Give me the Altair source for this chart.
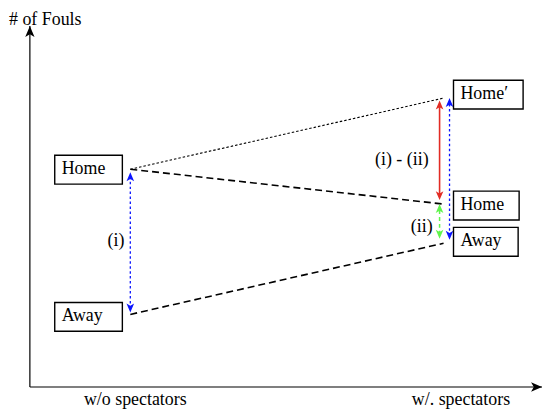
import altair as alt
import pandas as pd

# ---------------- data ----------------
conditions = ["w/o spectators", "w/. spectators"]
cond_pos = [0, 1]
home = [15.0, 12.6]          # fouls of the home team
away = [5.0, 9.9]            # fouls of the away team
home_prime = 19.9            # counterfactual home level (Away + (i))
box_labels = ["Home", "Away", "Home\u2032", "Home", "Away"]
diff_labels = ["(i)", "(i) - (ii)", "(ii)"]
y_title = "# of Fouls"

# ---------------- style ----------------
FONT = "'Liberation Serif', 'Times New Roman', serif"
FS = 18
BLUE = "#0a14ff"
RED = "#e22c24"
GREEN = "#61f54d"
HEAD = "M0,0 L0.85,2 L0,1.5 L-0.85,2 Z"   # stealth arrow head, tip at origin, pointing up

W, H = 515, 363
PX_X, PX_Y = 315.0, 14.6
x0 = -101 / PX_X
xdom = [x0, x0 + W / PX_X]
ydom = [0, H / PX_Y]
xs = alt.Scale(domain=xdom, nice=False, zero=False)
ys = alt.Scale(domain=ydom, nice=False, zero=False)


def X(f="x"):
    return alt.X(f + ":Q", scale=xs, axis=None)


def Y(f="y"):
    return alt.Y(f + ":Q", scale=ys, axis=None)


layers = []

# ---- frame: axes with arrow heads ----
yaxis_df = pd.DataFrame({"x": [xdom[0]], "y": [ydom[0]], "y2": [ydom[1]]})
xaxis_df = pd.DataFrame({"x": [xdom[0]], "x2": [xdom[1]], "y": [ydom[0]]})
layers.append(alt.Chart(yaxis_df).mark_rule(color="black", strokeWidth=1.2)
              .encode(x=X(), y=Y(), y2="y2:Q"))
layers.append(alt.Chart(xaxis_df).mark_rule(color="black", strokeWidth=1.2)
              .encode(x=X(), x2="x2:Q", y=Y()))
heads_df = pd.DataFrame({"x": [xdom[0], xdom[1]], "y": [ydom[1], ydom[0]], "ang": [0, 90]})
layers.append(alt.Chart(heads_df).mark_point(
    shape=HEAD, size=121, filled=True, color="black", opacity=1, strokeWidth=0
).encode(x=X(), y=Y(), angle=alt.Angle("ang:Q", scale=None)))
title_df = pd.DataFrame({"x": [xdom[0]], "y": [ydom[1]], "t": [y_title]})
layers.append(alt.Chart(title_df).mark_text(font=FONT, fontSize=FS, color="black", align="left",
                                            baseline="middle", dx=-21, dy=-6)
              .encode(x=X(), y=Y(), text="t:N"))

# ---- connecting lines ----
def line_layer(y_vals, dash, width):
    df = pd.DataFrame({"x": cond_pos, "y": y_vals})
    return alt.Chart(df).mark_line(color="black", strokeDash=dash, strokeWidth=width).encode(
        x=X(), y=Y())

layers.append(line_layer(home, [7, 4], 1.6))
layers.append(line_layer(away, [7, 4], 1.6))
layers.append(line_layer([home[0], home_prime], [2.5, 2], 1.1))

# ---- double arrows ----
arrows = [
    # x cond, lo, hi, color, dash, width, xoffset, gap_lo, gap_hi
    (cond_pos[0], away[0], home[0], BLUE, [2.5, 2.5], 1.3, 0, 2, 3),
    (cond_pos[1], away[1], home_prime, BLUE, [2.5, 2.5], 1.3, 6, 3.5, 0),
    (cond_pos[1], home[1], home_prime, RED, None, 1.6, -4, 4, 2.5),
    (cond_pos[1], away[1], home[1], GREEN, [4, 3], 1.5, -4, 4.5, 0),
]
for xc, lo, hi, col, dash, wdt, xo, glo, ghi in arrows:
    df = pd.DataFrame({"x": [xc], "lo": [lo], "hi": [hi]})
    rule_kw = dict(color=col, strokeWidth=wdt, xOffset=xo, yOffset=-(glo + 4), y2Offset=ghi + 4)
    if dash is not None:
        rule_kw["strokeDash"] = dash
    base = alt.Chart(df)
    layers.append(base.mark_rule(**rule_kw).encode(x=X(), y=Y("lo"), y2="hi:Q"))
    layers.append(base.mark_point(shape=HEAD, size=81, filled=True, color=col, opacity=1,
                                  strokeWidth=0, angle=180, xOffset=xo, yOffset=-glo)
                  .encode(x=X(), y=Y("lo")))
    layers.append(base.mark_point(shape=HEAD, size=81, filled=True, color=col, opacity=1,
                                  strokeWidth=0, angle=0, xOffset=xo, yOffset=ghi)
                  .encode(x=X(), y=Y("hi")))

# ---- labelled boxes ----
box_anchor = [
    (cond_pos[0], home[0]),
    (cond_pos[0], away[0]),
    (cond_pos[1], home_prime),
    (cond_pos[1], home[1]),
    (cond_pos[1], away[1]),
]
box_geom = [  # pixel offsets x0, x1, y0, y1 relative to the anchor
    (-76, -8, -14, 15),
    (-76, -8, -12, 17),
    (10, 80, -18, 11),
    (10, 76, -13, 16),
    (10, 75, -16, 13),
]
for lab, (xc, yv), (bx0, bx1, by0, by1) in zip(box_labels, box_anchor, box_geom):
    df = pd.DataFrame({"x": [xc], "y": [yv], "t": [lab]})
    base = alt.Chart(df)
    layers.append(base.mark_rect(fill="white", stroke="black", strokeWidth=1.4,
                                 xOffset=bx0, x2Offset=bx1, yOffset=by0, y2Offset=by1)
                  .encode(x=X(), x2="x:Q", y=Y(), y2="y:Q"))
    layers.append(base.mark_text(font=FONT, fontSize=FS, color="black", align="left",
                                 baseline="alphabetic", dx=bx0 + 7, dy=by1 - 10)
                  .encode(x=X(), y=Y(), text="t:N"))

# ---- difference labels ----
diff_pos = [
    (cond_pos[0], (home[0] + away[0]) / 2, -6, -1),
    (cond_pos[1], (home[1] + home_prime) / 2, -15, 9),
    (cond_pos[1], (home[1] + away[1]) / 2, -11, 3),
]
for lab, (xc, yv, ddx, ddy) in zip(diff_labels, diff_pos):
    df = pd.DataFrame({"x": [xc], "y": [yv], "t": [lab]})
    layers.append(alt.Chart(df).mark_text(font=FONT, fontSize=FS, color="black", align="right",
                                          baseline="middle", dx=ddx, dy=ddy)
                  .encode(x=X(), y=Y(), text="t:N"))

# ---- condition labels on x axis ----
cond_dx = [5, 17.5]
for lab, xc, ddx in zip(conditions, cond_pos, cond_dx):
    df = pd.DataFrame({"x": [xc], "y": [ydom[0]], "t": [lab]})
    layers.append(alt.Chart(df).mark_text(font=FONT, fontSize=FS, color="black", align="center",
                                          baseline="middle", dx=ddx, dy=13)
                  .encode(x=X(), y=Y(), text="t:N"))

chart = alt.layer(*layers).properties(
    width=W, height=H,
    autosize=alt.AutoSizeParams(type="none"),
    padding={"left": 22, "top": 17, "right": 0, "bottom": 22},
).configure_view(stroke=None)

chart.save("out.html", embed_options={"renderer": "svg", "actions": False})
